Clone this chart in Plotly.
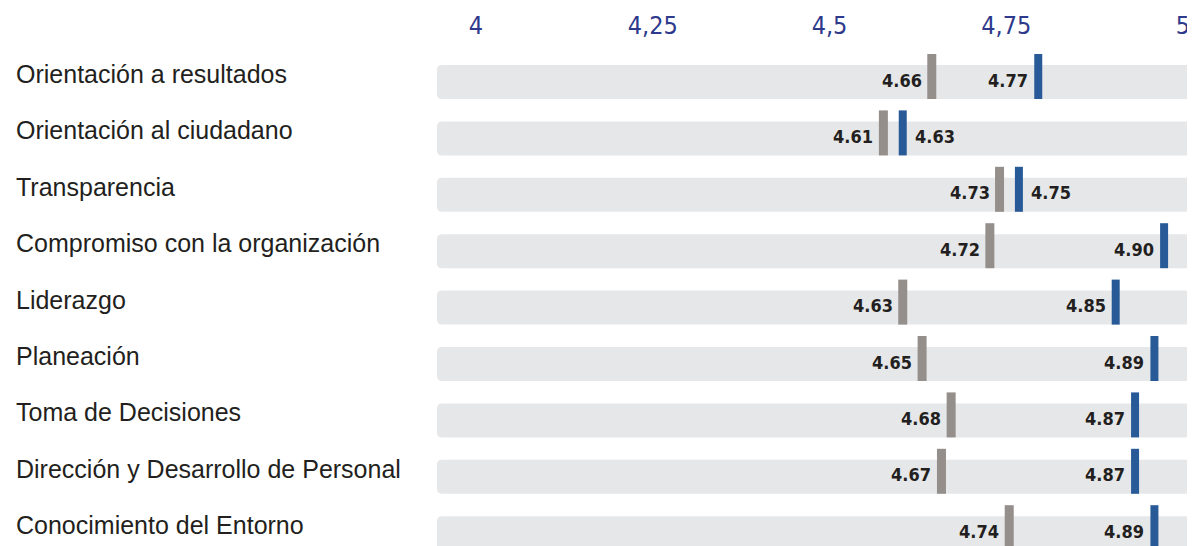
import plotly.graph_objects as go

# ---------------- data ----------------
categories = [
    "Orientación a resultados",
    "Orientación al ciudadano",
    "Transparencia",
    "Compromiso con la organización",
    "Liderazgo",
    "Planeación",
    "Toma de Decisiones",
    "Dirección y Desarrollo de Personal",
    "Conocimiento del Entorno",
]
gray_values = [4.66, 4.61, 4.73, 4.72, 4.63, 4.65, 4.68, 4.67, 4.74]
blue_values = [4.77, 4.63, 4.75, 4.90, 4.85, 4.89, 4.87, 4.87, 4.89]
tick_values = [4, 4.25, 4.5, 4.75, 5]
tick_labels = ["4", "4,25", "4,5", "4,75", "5"]

# ---------------- style ----------------
GRAY = "#958f8c"
BLUE = "#285a98"
TRACK = "#e6e7e9"
NAVY = "#2e3a8c"
TEXT = "#231f20"
NUM_FONT = "DejaVu Sans Condensed, Liberation Sans Narrow, Arial Narrow, sans-serif"
LABEL_FONT = "Liberation Sans, Arial, sans-serif"

PAGE = 8  # default body margin of the html page
WIN_W, WIN_H = 1195, 546
W, H = WIN_W - PAGE, WIN_H - PAGE
# desired positions in window pixels
TRACK_L, TRACK_R, PLOT_T = 437, 1191, 40
ML, MR, MT, MB = TRACK_L - PAGE, WIN_W - TRACK_R, PLOT_T - PAGE, 0
plot_w = W - ML - MR
row_px = 56.4
row0_px = 82  # window px of first track centre

rows = list(range(len(categories)))
marker_off = 5.5 / row_px  # markers sit slightly above the track centre
MARKER_LEN = 45  # px; plotly's line-ns symbol is 1.4 * size long

fig = go.Figure()

# tracks (decorative rounded backgrounds)
rx = 5 / plot_w
ry = 5 / row_px
half = 17 / row_px
for i in rows:
    y0, y1 = i - half, i + half
    path = (
        f"M {rx},{y0} L {1-rx},{y0} Q 1,{y0} 1,{y0+ry} L 1,{y1-ry} Q 1,{y1} {1-rx},{y1} "
        f"L {rx},{y1} Q 0,{y1} 0,{y1-ry} L 0,{y0+ry} Q 0,{y0} {rx},{y0} Z"
    )
    fig.add_shape(type="path", path=path, xref="x domain", yref="y",
                  fillcolor=TRACK, line=dict(width=0), layer="below")

# markers
fig.add_trace(go.Scatter(
    x=gray_values, y=[r - marker_off for r in rows], mode="markers",
    marker=dict(symbol="line-ns", size=MARKER_LEN / 1.4, color=GRAY,
                line=dict(width=9, color=GRAY)),
    hoverinfo="skip", showlegend=False))
fig.add_trace(go.Scatter(
    x=blue_values, y=[r - marker_off for r in rows], mode="markers",
    marker=dict(symbol="line-ns", size=MARKER_LEN / 1.4, color=BLUE,
                line=dict(width=8, color=BLUE)),
    hoverinfo="skip", showlegend=False))

# invisible trace to carry the top scale
fig.add_trace(go.Scatter(
    x=tick_values, y=[0] * len(tick_values), xaxis="x2", mode="markers",
    marker=dict(opacity=0), hoverinfo="skip", showlegend=False))

# value labels
for i, (g, b) in enumerate(zip(gray_values, blue_values)):
    fig.add_annotation(x=g, y=i, xref="x", yref="y", text=f"{g:.2f}", showarrow=False,
                       xanchor="right", xshift=-8, yshift=2,
                       font=dict(family=NUM_FONT, size=18, color=TEXT, weight="bold"))
    right = (b - g) < 0.05
    fig.add_annotation(x=b, y=i, xref="x", yref="y", text=f"{b:.2f}", showarrow=False,
                       xanchor="left" if right else "right",
                       xshift=10 if right else -8, yshift=2,
                       font=dict(family=NUM_FONT, size=18, color=TEXT, weight="bold"))

# row labels
for i, c in enumerate(categories):
    fig.add_annotation(x=(14 - TRACK_L) / plot_w, y=i, xref="paper", yref="y", text=c,
                       showarrow=False, xanchor="left", yanchor="middle", yshift=8,
                       font=dict(family=LABEL_FONT, size=25, color=TEXT))

# scales (window pixel of value 4 and px per unit)
x_px0, x_scale = 292.9, 968.0   # markers
t_px0, t_scale = 476.0, 707.0   # top scale labels

y_top = -(row0_px - PLOT_T) / row_px
y_bot = (WIN_H - row0_px) / row_px

fig.update_layout(
    width=W, height=H,
    margin=dict(l=ML, r=MR, t=MT, b=MB),
    paper_bgcolor="white", plot_bgcolor="white",
    xaxis=dict(range=[4 + (TRACK_L - x_px0) / x_scale, 4 + (TRACK_R - x_px0) / x_scale],
               visible=False, fixedrange=True),
    xaxis2=dict(overlaying="x", side="top",
                range=[4 + (TRACK_L - t_px0) / t_scale, 4 + (TRACK_R - t_px0) / t_scale],
                tickvals=tick_values, ticktext=tick_labels, ticks="",
                showgrid=False, zeroline=False, showline=False,
                tickfont=dict(family=NUM_FONT, size=25, color=NAVY), fixedrange=True),
    yaxis=dict(range=[y_bot, y_top], visible=False, fixedrange=True),
    showlegend=False,
)

fig.write_html("out.html")
